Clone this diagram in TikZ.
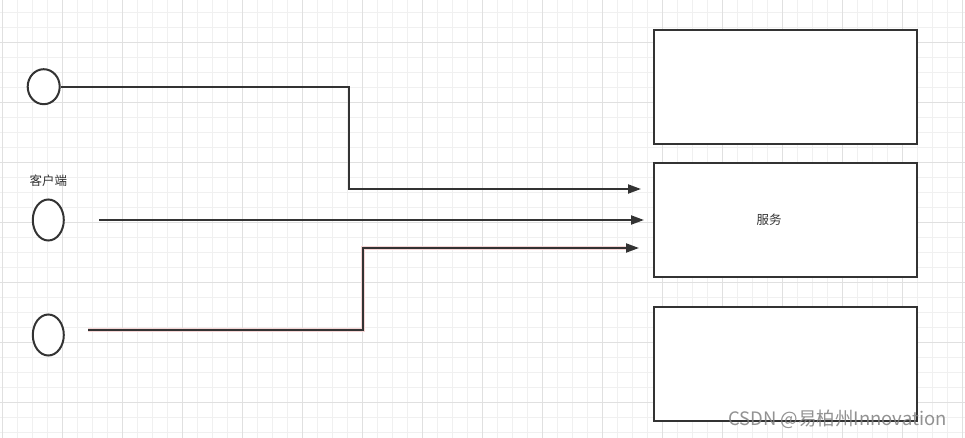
\documentclass[tikz,border=0pt]{standalone}
\usepackage{fontspec}
\newfontfamily\cjk{Noto Sans CJK SC}
\usetikzlibrary{shapes.geometric,arrows.meta}
\definecolor{ink}{HTML}{333333}
\definecolor{gridminor}{HTML}{F0F0F0}
\definecolor{gridmajor}{HTML}{E0E0E0}
\definecolor{glow}{HTML}{F5D5D5}
\tikzset{
  client/.style={draw=ink, line width=2pt, ellipse, inner sep=0pt, fill=white},
  svcbox/.style={draw=ink, line width=2pt, rectangle, minimum width=263pt, minimum height=114pt, inner sep=0pt, fill=white},
  conn/.style={draw=ink, line width=2pt, -{Triangle[length=13pt,width=9pt]}},
  lbl/.style={text=ink, font=\cjk\fontsize{12.5}{14}\selectfont, inner sep=0pt},
  wmark/.style={text=gray, opacity=0.85, font=\cjk\fontsize{18.5}{20}\selectfont, inner sep=0pt}
}
\begin{document}
\begin{tikzpicture}[x=1pt,y=-1pt]
\useasboundingbox (0,0) rectangle (965,438);
\fill[white] (0,0) rectangle (965,438);
% grid
\foreach \gx in {0,...,64} {\draw[gridminor, line width=1pt] (2.5+15*\gx,0) -- (2.5+15*\gx,438);}
\foreach \gy in {0,...,29} {\draw[gridminor, line width=1pt] (0,-2.5+15*\gy) -- (965,-2.5+15*\gy);}
\foreach \gx in {0,...,16} {\draw[gridmajor, line width=1pt] (2.5+60*\gx,0) -- (2.5+60*\gx,438);}
\foreach \gy in {0,...,7} {\draw[gridmajor, line width=1pt] (0,-17.5+60*\gy) -- (965,-17.5+60*\gy);}
% clients
\node[client, minimum width=32pt, minimum height=35pt] (c1) at (43.7,86.7) {};
\node[client, minimum width=31pt, minimum height=41pt] (c2) at (48.3,220) {};
\node[client, minimum width=31pt, minimum height=41pt] (c3) at (48.3,335) {};
\node[lbl] (clabel) at (48.3,180.5) {客户端};
% service boxes
\node[svcbox] (b1) at (785.5,87) {};
\node[svcbox] (b2) at (785.5,220) {};
\node[svcbox] (b3) at (785.5,363.5) {};
\node[lbl] (slabel) at (769,220) {服务};
% connector coordinates
\coordinate (t1) at (641,189);
\coordinate (t2) at (644,220);
\coordinate (t3) at (639,248);
\coordinate (s2) at (99,220);
\coordinate (s3) at (88,330);
\coordinate (v1) at (349,0);
\coordinate (v3) at (362.5,0);
% connectors
\draw[conn] (c1.east) -- (c1.east -| v1) |- (t1);
\draw[conn] (s2) -- (t2);
\draw[glow, line width=4pt, line join=miter] (s3) -- (s3 -| v3) |- ([xshift=-12pt]t3);
\draw[conn] (s3) -- (s3 -| v3) |- (t3);
% watermark
\node[wmark, anchor=west] (wm) at (728,419) {CSDN @易柏州Innovation};
\end{tikzpicture}
\end{document}
